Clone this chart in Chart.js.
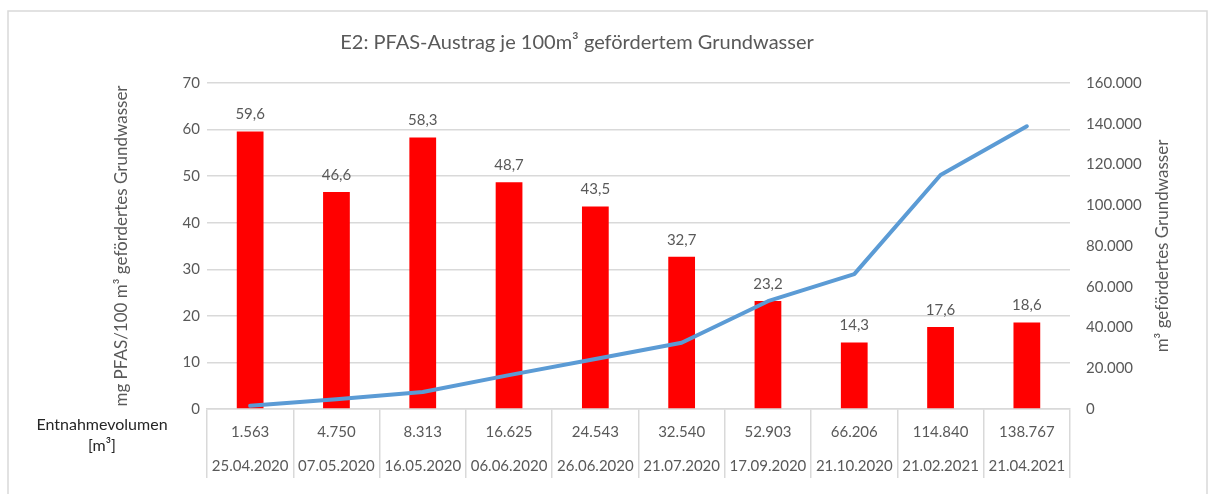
<!DOCTYPE html>
<html>
<head>
<meta charset="utf-8">
<script src="https://cdn.jsdelivr.net/npm/chart.js@4"></script>
<style>
  body { margin: 0; background: #fff; }
  canvas { display: block; }
</style>
</head>
<body>
<canvas id="grafico" width="1208" height="494"></canvas>
<script>
// Werte aus dem Diagramm
const datum = ['25.04.2020','07.05.2020','16.05.2020','06.06.2020','26.06.2020',
               '21.07.2020','17.09.2020','21.10.2020','21.02.2021','21.04.2021'];
const volumen = [1563, 4750, 8313, 16625, 24543, 32540, 52903, 66206, 114840, 138767];
const pfas = [59.6, 46.6, 58.3, 48.7, 43.5, 32.7, 23.2, 14.3, 17.6, 18.6];
const ticksLinks = [0, 10, 20, 30, 40, 50, 60, 70];
const ticksRechts = [0, 20000, 40000, 60000, 80000, 100000, 120000, 140000, 160000];

const titel = 'E2: PFAS-Austrag je 100m³ gefördertem Grundwasser';
const titelLinks = 'mg PFAS/100 m³ gefördertes Grundwasser';
const titelRechts = 'm³ gefördertes Grundwasser';

const grau = '#595959';
const gitter = '#d9d9d9';

function tausender(n) {
    return n.toString().replace(/\B(?=(\d{3})+(?!\d))/g, '.');
}

const labels = datum.map((d, i) => [tausender(volumen[i]), d]);

Chart.defaults.font.family = 'Lato';
Chart.defaults.color = grau;

// Rahmen, Titel, Achsentitel und Werte über den Balken
const beschriftung = {
    id: 'beschriftung',
    beforeDraw(chart) {
        const ctx = chart.ctx;
        ctx.save();
        ctx.strokeStyle = gitter;
        ctx.lineWidth = 1.5;
        ctx.strokeRect(8, 11, 1199, 495);
        ctx.restore();
    },
    afterDraw(chart) {
        const ctx = chart.ctx;
        const area = chart.chartArea;
        const mitte = (area.top + area.bottom) / 2;
        ctx.save();
        ctx.fillStyle = grau;
        ctx.textAlign = 'center';
        ctx.textBaseline = 'middle';

        ctx.font = '20px Lato';
        ctx.fillText(titel, 577, 43);

        ctx.font = '17px Lato';
        ctx.save();
        ctx.translate(122, mitte);
        ctx.rotate(-Math.PI / 2);
        ctx.fillText(titelLinks, 0, 0);
        ctx.restore();

        ctx.save();
        ctx.translate(1163, mitte);
        ctx.rotate(-Math.PI / 2);
        ctx.fillText(titelRechts, 0, 0);
        ctx.restore();

        ctx.fillStyle = '#262626';
        ctx.font = '16px Lato';
        ctx.fillText('Entnahmevolumen', 102, 425);
        ctx.fillText('[m³]', 102, 446);

        ctx.fillStyle = grau;
        ctx.font = '15px Lato';
        const meta = chart.getDatasetMeta(0);
        meta.data.forEach((bar, i) => {
            ctx.fillText(pfas[i].toFixed(1).replace('.', ','), bar.x, bar.y - 17);
        });
        ctx.restore();
    }
};

new Chart(document.getElementById('grafico'), {
    type: 'bar',
    data: {
        labels: labels,
        datasets: [{
            type: 'bar',
            data: pfas,
            backgroundColor: '#ff0000',
            yAxisID: 'y',
            barPercentage: 0.31,
            categoryPercentage: 1,
            order: 1
        }, {
            type: 'line',
            data: volumen,
            borderColor: '#5b9bd5',
            borderWidth: 4,
            pointRadius: 0,
            borderCapStyle: 'round',
            borderJoinStyle: 'round',
            tension: 0,
            yAxisID: 'y1',
            order: 0
        }]
    },
    options: {
        responsive: false,
        animation: false,
        layout: { padding: { top: 83, left: 0, right: 0, bottom: 0 } },
        plugins: {
            legend: { display: false },
            tooltip: { enabled: false },
            title: { display: false }
        },
        scales: {
            x: {
                offset: true,
                grid: {
                    offset: true,
                    drawOnChartArea: false,
                    drawTicks: true,
                    tickLength: 69,
                    color: gitter,
                    lineWidth: 1.5
                },
                border: { display: true, color: gitter, width: 1.5 },
                ticks: {
                    padding: -63,
                    maxRotation: 0,
                    autoSkip: false,
                    color: grau,
                    font: { size: 15, lineHeight: '34px' }
                },
                afterFit(scale) { scale.height = 85; }
            },
            y: {
                position: 'left',
                min: 0,
                max: 70,
                afterBuildTicks(scale) { scale.ticks = ticksLinks.map(v => ({ value: v })); },
                grid: { color: gitter, lineWidth: 1.5, drawTicks: false },
                border: { display: false },
                ticks: { padding: 7, color: grau, font: { size: 15 } },
                afterFit(scale) { scale.width = 207; }
            },
            y1: {
                position: 'right',
                min: 0,
                max: 160000,
                afterBuildTicks(scale) { scale.ticks = ticksRechts.map(v => ({ value: v })); },
                grid: { drawOnChartArea: false, drawTicks: false },
                border: { display: false },
                ticks: {
                    padding: 16,
                    color: grau,
                    font: { size: 15 },
                    callback: v => tausender(v)
                },
                afterFit(scale) { scale.width = 138; }
            }
        }
    },
    plugins: [beschriftung]
});
</script>
</body>
</html>
